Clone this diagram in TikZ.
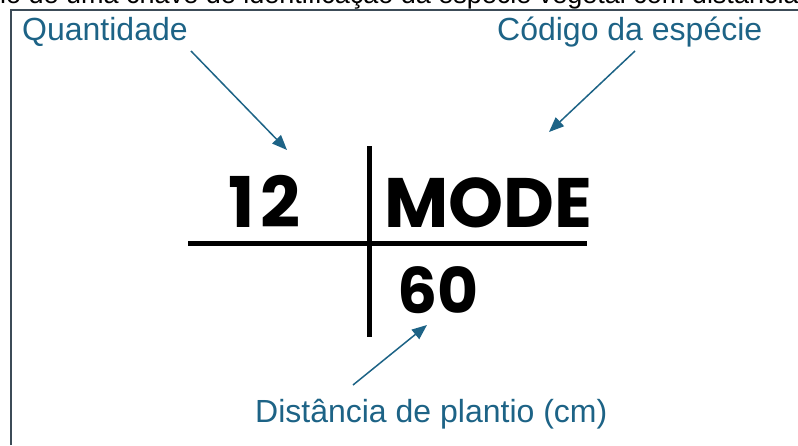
\documentclass[tikz,border=0pt]{standalone}
\usepackage{fontspec}
\setmainfont{Liberation Sans}
\newfontfamily\popfont{Poppins}
\usetikzlibrary{arrows.meta}
\definecolor{lblue}{HTML}{1D6386}
\definecolor{frame}{HTML}{3C4B57}
\tikzset{
  lbl/.style={anchor=base west,inner sep=0pt,text=lblue,font=\fontsize{32}{38}\selectfont},
  big/.style={anchor=base west,inner sep=0pt,text=black,font=\popfont\bfseries\fontsize{70}{80}\selectfont},
  pointer/.style={draw=lblue,line width=1.5pt,-{Triangle[length=15pt,width=12pt]}},
  bar/.style={draw=black,line width=5pt}
}
\begin{document}
\begin{tikzpicture}[x=1pt,y=-1pt]
\useasboundingbox (0,0) rectangle (798,445);
\begin{scope}
\clip (0,0) rectangle (798,445);
\node[anchor=base west,inner sep=0pt,font=\fontsize{27}{32}\selectfont] (top) at (0,3) {lo de uma chave de identificação da espécie vegetal com distância};
\end{scope}
% frame
\coordinate (f1) at (11,445);
\coordinate (f2) at (11,10);
\coordinate (f3) at (798,10);
\draw[frame,line width=1.6pt] (f1) -- (f2) -- (f3);
% labels
\node[lbl] (q) at (22,40) {Quantidade};
\node[lbl] (c) at (497,40) {Código da espécie};
\node[lbl] (d) at (255,422) {Distância de plantio (cm)};
% cross
\coordinate (vt) at (369,146);
\coordinate (vb) at (369,337);
\coordinate (hl) at (188,243);
\coordinate (hr) at (587,243);
\draw[bar] (vt) -- (vb);
\draw[bar] (hl) -- (hr);
% big texts
\node[big] (n12) at (228,227) {1\kern6pt2};
\node[big] (mode) at (384,227) {MODE};
\node[big,font=\popfont\bfseries\fontsize{63}{72}\selectfont] (n60) at (397,313) {60};
% arrows
\coordinate (a1s) at (191,51);
\coordinate (a1e) at (287,150);
\coordinate (a2s) at (635,51);
\coordinate (a2e) at (549,132);
\coordinate (a3s) at (353,385);
\coordinate (a3e) at (427,325);
\draw[pointer] (a1s) -- (a1e);
\draw[pointer] (a2s) -- (a2e);
\draw[pointer] (a3s) -- (a3e);
\end{tikzpicture}
\end{document}
